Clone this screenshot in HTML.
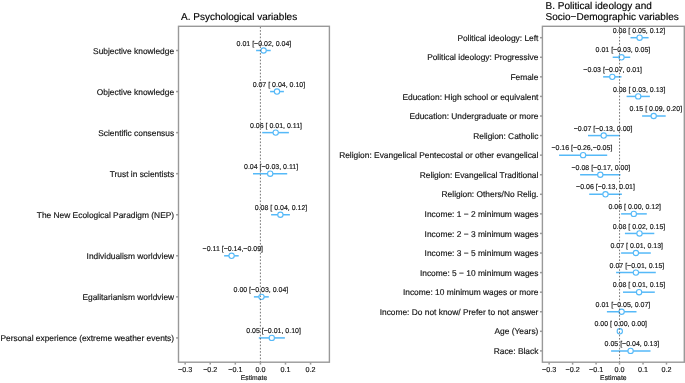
<!DOCTYPE html>
<html><head><meta charset="utf-8"><title>Forest plot</title><style>
html,body{margin:0;padding:0;background:#fff;}
body{width:685px;height:383px;overflow:hidden;}
svg{display:block;}
text{font-family:"Liberation Sans",Arial,Helvetica,sans-serif;text-rendering:geometricPrecision;}
.title{font-size:10.0px;fill:#000;stroke:#000;stroke-width:0.15;}
.ylab{font-size:8.4px;fill:#111;text-anchor:end;stroke:#111;stroke-width:0.15;}
.ann{font-size:7.0px;fill:#111;text-anchor:middle;stroke:#111;stroke-width:0.15;}
.tick{font-size:7.2px;fill:#111;text-anchor:middle;stroke:#111;stroke-width:0.15;}
.xt{font-size:6.8px;fill:#111;text-anchor:middle;stroke:#111;stroke-width:0.15;}
.ax{stroke:#999;stroke-width:1.4;}
.tk{stroke:#999;stroke-width:1.5;}
</style></head>
<body><svg width="685" height="383" viewBox="0 0 685 383">
<text x="181.0" y="19.6" class="title">A. Psychological variables</text>
<text x="545.6" y="8.9" class="title">B. Political ideology and</text>
<text x="545.6" y="19.75" class="title">Socio−Demographic variables</text>
<line x1="256.10" y1="50.50" x2="270.70" y2="50.50" stroke="#55B9F8" stroke-width="1.50"/>
<circle cx="263.60" cy="50.50" r="2.65" fill="#fff" stroke="#55B9F8" stroke-width="1.10"/>
<text x="263.95" y="45.60" class="ann">0.01 [−0.02, 0.04]</text>
<text x="174.10" y="53.60" class="ylab">Subjective knowledge</text>
<line x1="176.10" y1="50.50" x2="178.50" y2="50.50" class="tk"/>
<line x1="270.10" y1="91.56" x2="283.90" y2="91.56" stroke="#55B9F8" stroke-width="1.50"/>
<circle cx="277.00" cy="91.56" r="2.65" fill="#fff" stroke="#55B9F8" stroke-width="1.10"/>
<text x="278.90" y="86.66" class="ann">0.07 [ 0.04, 0.10]</text>
<text x="174.10" y="94.66" class="ylab">Objective knowledge</text>
<line x1="176.10" y1="91.56" x2="178.50" y2="91.56" class="tk"/>
<line x1="262.20" y1="132.62" x2="288.90" y2="132.62" stroke="#55B9F8" stroke-width="1.50"/>
<circle cx="275.70" cy="132.62" r="2.65" fill="#fff" stroke="#55B9F8" stroke-width="1.10"/>
<text x="276.00" y="127.72" class="ann">0.06 [ 0.01, 0.11]</text>
<text x="174.10" y="135.72" class="ylab">Scientific consensus</text>
<line x1="176.10" y1="132.62" x2="178.50" y2="132.62" class="tk"/>
<line x1="253.00" y1="173.68" x2="287.20" y2="173.68" stroke="#55B9F8" stroke-width="1.50"/>
<circle cx="270.20" cy="173.68" r="2.65" fill="#fff" stroke="#55B9F8" stroke-width="1.10"/>
<text x="271.10" y="168.78" class="ann">0.04 [−0.03, 0.11]</text>
<text x="174.10" y="176.78" class="ylab">Trust in scientists</text>
<line x1="176.10" y1="173.68" x2="178.50" y2="173.68" class="tk"/>
<line x1="271.10" y1="214.74" x2="289.90" y2="214.74" stroke="#55B9F8" stroke-width="1.50"/>
<circle cx="280.40" cy="214.74" r="2.65" fill="#fff" stroke="#55B9F8" stroke-width="1.10"/>
<text x="281.00" y="209.84" class="ann">0.08 [ 0.04, 0.12]</text>
<text x="174.10" y="217.84" class="ylab">The New Ecological Paradigm (NEP)</text>
<line x1="176.10" y1="214.74" x2="178.50" y2="214.74" class="tk"/>
<line x1="224.10" y1="255.80" x2="238.70" y2="255.80" stroke="#55B9F8" stroke-width="1.50"/>
<circle cx="231.60" cy="255.80" r="2.65" fill="#fff" stroke="#55B9F8" stroke-width="1.10"/>
<text x="232.80" y="250.90" class="ann">−0.11 [−0.14,−0.09]</text>
<text x="174.10" y="258.90" class="ylab">Individualism worldview</text>
<line x1="176.10" y1="255.80" x2="178.50" y2="255.80" class="tk"/>
<line x1="253.90" y1="296.86" x2="268.80" y2="296.86" stroke="#55B9F8" stroke-width="1.50"/>
<circle cx="261.50" cy="296.86" r="2.65" fill="#fff" stroke="#55B9F8" stroke-width="1.10"/>
<text x="260.90" y="291.96" class="ann">0.00 [−0.03, 0.04]</text>
<text x="174.10" y="299.96" class="ylab">Egalitarianism worldview</text>
<line x1="176.10" y1="296.86" x2="178.50" y2="296.86" class="tk"/>
<line x1="258.80" y1="337.92" x2="284.90" y2="337.92" stroke="#55B9F8" stroke-width="1.50"/>
<circle cx="271.80" cy="337.92" r="2.65" fill="#fff" stroke="#55B9F8" stroke-width="1.10"/>
<text x="273.60" y="333.02" class="ann">0.05 [−0.01, 0.10]</text>
<text x="174.10" y="341.02" class="ylab">Personal experience (extreme weather events)</text>
<line x1="176.10" y1="337.92" x2="178.50" y2="337.92" class="tk"/>
<line x1="260.40" y1="26.30" x2="260.40" y2="362.20" stroke="#555" stroke-width="0.8" stroke-dasharray="1.638 1.638" stroke-dashoffset="2.795"/>
<rect x="178.50" y="26.30" width="150.90" height="335.90" fill="none" class="ax"/>
<line x1="185.16" y1="362.20" x2="185.16" y2="364.60" class="tk"/>
<text x="185.16" y="371.70" class="tick">−0.3</text>
<line x1="210.24" y1="362.20" x2="210.24" y2="364.60" class="tk"/>
<text x="210.24" y="371.70" class="tick">−0.2</text>
<line x1="235.32" y1="362.20" x2="235.32" y2="364.60" class="tk"/>
<text x="235.32" y="371.70" class="tick">−0.1</text>
<line x1="260.40" y1="362.20" x2="260.40" y2="364.60" class="tk"/>
<text x="260.40" y="371.70" class="tick">0.0</text>
<line x1="285.48" y1="362.20" x2="285.48" y2="364.60" class="tk"/>
<text x="285.48" y="371.70" class="tick">0.1</text>
<line x1="310.56" y1="362.20" x2="310.56" y2="364.60" class="tk"/>
<text x="310.56" y="371.70" class="tick">0.2</text>
<text x="253.95" y="379.80" class="xt">Estimate</text>
<line x1="630.50" y1="37.70" x2="648.60" y2="37.70" stroke="#55B9F8" stroke-width="1.50"/>
<circle cx="639.60" cy="37.70" r="2.65" fill="#fff" stroke="#55B9F8" stroke-width="1.10"/>
<text x="639.00" y="32.80" class="ann">0.08 [ 0.05, 0.12]</text>
<text x="538.40" y="40.80" class="ylab">Political ideology: Left</text>
<line x1="540.00" y1="37.70" x2="542.40" y2="37.70" class="tk"/>
<line x1="612.70" y1="57.28" x2="630.20" y2="57.28" stroke="#55B9F8" stroke-width="1.50"/>
<circle cx="621.50" cy="57.28" r="2.65" fill="#fff" stroke="#55B9F8" stroke-width="1.10"/>
<text x="622.95" y="52.38" class="ann">0.01 [−0.03, 0.05]</text>
<text x="538.40" y="60.38" class="ylab">Political ideology: Progressive</text>
<line x1="540.00" y1="57.28" x2="542.40" y2="57.28" class="tk"/>
<line x1="603.10" y1="76.85" x2="621.50" y2="76.85" stroke="#55B9F8" stroke-width="1.50"/>
<circle cx="612.30" cy="76.85" r="2.65" fill="#fff" stroke="#55B9F8" stroke-width="1.10"/>
<text x="612.70" y="71.95" class="ann">−0.03 [−0.07, 0.01]</text>
<text x="538.40" y="79.95" class="ylab">Female</text>
<line x1="540.00" y1="76.85" x2="542.40" y2="76.85" class="tk"/>
<line x1="626.60" y1="96.42" x2="649.90" y2="96.42" stroke="#55B9F8" stroke-width="1.50"/>
<circle cx="638.20" cy="96.42" r="2.65" fill="#fff" stroke="#55B9F8" stroke-width="1.10"/>
<text x="639.15" y="91.52" class="ann">0.08 [ 0.03, 0.13]</text>
<text x="538.40" y="99.52" class="ylab">Education: High school or equivalent</text>
<line x1="540.00" y1="96.42" x2="542.40" y2="96.42" class="tk"/>
<line x1="642.10" y1="116.00" x2="665.70" y2="116.00" stroke="#55B9F8" stroke-width="1.50"/>
<circle cx="653.70" cy="116.00" r="2.65" fill="#fff" stroke="#55B9F8" stroke-width="1.10"/>
<text x="655.85" y="111.10" class="ann">0.15 [ 0.09, 0.20]</text>
<text x="538.40" y="119.10" class="ylab">Education: Undergraduate or more</text>
<line x1="540.00" y1="116.00" x2="542.40" y2="116.00" class="tk"/>
<line x1="588.00" y1="135.57" x2="619.80" y2="135.57" stroke="#55B9F8" stroke-width="1.50"/>
<circle cx="603.70" cy="135.57" r="2.65" fill="#fff" stroke="#55B9F8" stroke-width="1.10"/>
<text x="603.05" y="130.67" class="ann">−0.07 [−0.13, 0.00]</text>
<text x="538.40" y="138.67" class="ylab">Religion: Catholic</text>
<line x1="540.00" y1="135.57" x2="542.40" y2="135.57" class="tk"/>
<line x1="559.10" y1="155.15" x2="607.20" y2="155.15" stroke="#55B9F8" stroke-width="1.50"/>
<circle cx="583.10" cy="155.15" r="2.65" fill="#fff" stroke="#55B9F8" stroke-width="1.10"/>
<text x="581.90" y="150.25" class="ann">−0.16 [−0.26,−0.05]</text>
<text x="538.40" y="158.25" class="ylab">Religion: Evangelical Pentecostal or other evangelical</text>
<line x1="540.00" y1="155.15" x2="542.40" y2="155.15" class="tk"/>
<line x1="580.10" y1="174.73" x2="620.50" y2="174.73" stroke="#55B9F8" stroke-width="1.50"/>
<circle cx="600.30" cy="174.73" r="2.65" fill="#fff" stroke="#55B9F8" stroke-width="1.10"/>
<text x="600.90" y="169.83" class="ann">−0.08 [−0.17, 0.00]</text>
<text x="538.40" y="177.83" class="ylab">Religion: Evangelical Traditional</text>
<line x1="540.00" y1="174.73" x2="542.40" y2="174.73" class="tk"/>
<line x1="589.20" y1="194.30" x2="621.90" y2="194.30" stroke="#55B9F8" stroke-width="1.50"/>
<circle cx="605.50" cy="194.30" r="2.65" fill="#fff" stroke="#55B9F8" stroke-width="1.10"/>
<text x="605.50" y="189.40" class="ann">−0.06 [−0.13, 0.01]</text>
<text x="538.40" y="197.40" class="ylab">Religion: Others/No Relig.</text>
<line x1="540.00" y1="194.30" x2="542.40" y2="194.30" class="tk"/>
<line x1="621.10" y1="213.88" x2="646.80" y2="213.88" stroke="#55B9F8" stroke-width="1.50"/>
<circle cx="633.80" cy="213.88" r="2.65" fill="#fff" stroke="#55B9F8" stroke-width="1.10"/>
<text x="634.75" y="208.97" class="ann">0.06 [ 0.00, 0.12]</text>
<text x="538.40" y="216.97" class="ylab">Income: 1 − 2 minimum wages</text>
<line x1="540.00" y1="213.88" x2="542.40" y2="213.88" class="tk"/>
<line x1="624.90" y1="233.45" x2="654.30" y2="233.45" stroke="#55B9F8" stroke-width="1.50"/>
<circle cx="639.50" cy="233.45" r="2.65" fill="#fff" stroke="#55B9F8" stroke-width="1.10"/>
<text x="639.00" y="228.55" class="ann">0.08 [ 0.02, 0.15]</text>
<text x="538.40" y="236.55" class="ylab">Income: 2 − 3 minimum wages</text>
<line x1="540.00" y1="233.45" x2="542.40" y2="233.45" class="tk"/>
<line x1="621.10" y1="253.02" x2="650.80" y2="253.02" stroke="#55B9F8" stroke-width="1.50"/>
<circle cx="635.90" cy="253.02" r="2.65" fill="#fff" stroke="#55B9F8" stroke-width="1.10"/>
<text x="636.75" y="248.12" class="ann">0.07 [ 0.01, 0.13]</text>
<text x="538.40" y="256.12" class="ylab">Income: 3 − 5 minimum wages</text>
<line x1="540.00" y1="253.02" x2="542.40" y2="253.02" class="tk"/>
<line x1="616.10" y1="272.60" x2="655.80" y2="272.60" stroke="#55B9F8" stroke-width="1.50"/>
<circle cx="635.90" cy="272.60" r="2.65" fill="#fff" stroke="#55B9F8" stroke-width="1.10"/>
<text x="636.95" y="267.70" class="ann">0.07 [−0.01, 0.15]</text>
<text x="538.40" y="275.70" class="ylab">Income: 5 − 10 minimum wages</text>
<line x1="540.00" y1="272.60" x2="542.40" y2="272.60" class="tk"/>
<line x1="623.00" y1="292.18" x2="654.80" y2="292.18" stroke="#55B9F8" stroke-width="1.50"/>
<circle cx="639.10" cy="292.18" r="2.65" fill="#fff" stroke="#55B9F8" stroke-width="1.10"/>
<text x="639.00" y="287.28" class="ann">0.08 [ 0.01, 0.15]</text>
<text x="538.40" y="295.28" class="ylab">Income: 10 minimum wages or more</text>
<line x1="540.00" y1="292.18" x2="542.40" y2="292.18" class="tk"/>
<line x1="606.90" y1="311.75" x2="636.50" y2="311.75" stroke="#55B9F8" stroke-width="1.50"/>
<circle cx="621.60" cy="311.75" r="2.65" fill="#fff" stroke="#55B9F8" stroke-width="1.10"/>
<text x="622.95" y="306.85" class="ann">0.01 [−0.05, 0.07]</text>
<text x="538.40" y="314.85" class="ylab">Income: Do not know/ Prefer to not answer</text>
<line x1="540.00" y1="311.75" x2="542.40" y2="311.75" class="tk"/>
<circle cx="619.80" cy="331.32" r="2.65" fill="#fff" stroke="#55B9F8" stroke-width="1.10"/>
<text x="620.75" y="326.43" class="ann">0.00 [ 0.00, 0.00]</text>
<text x="538.40" y="334.43" class="ylab">Age (Years)</text>
<line x1="540.00" y1="331.32" x2="542.40" y2="331.32" class="tk"/>
<line x1="611.10" y1="350.90" x2="650.50" y2="350.90" stroke="#55B9F8" stroke-width="1.50"/>
<circle cx="630.60" cy="350.90" r="2.65" fill="#fff" stroke="#55B9F8" stroke-width="1.10"/>
<text x="631.95" y="346.00" class="ann">0.05 [−0.04, 0.13]</text>
<text x="538.40" y="354.00" class="ylab">Race: Black</text>
<line x1="540.00" y1="350.90" x2="542.40" y2="350.90" class="tk"/>
<line x1="619.55" y1="26.30" x2="619.55" y2="362.20" stroke="#555" stroke-width="0.8" stroke-dasharray="1.638 1.638" stroke-dashoffset="2.795"/>
<rect x="542.40" y="26.30" width="141.90" height="335.90" fill="none" class="ax"/>
<line x1="549.14" y1="362.20" x2="549.14" y2="364.60" class="tk"/>
<text x="549.14" y="371.70" class="tick">−0.3</text>
<line x1="572.61" y1="362.20" x2="572.61" y2="364.60" class="tk"/>
<text x="572.61" y="371.70" class="tick">−0.2</text>
<line x1="596.08" y1="362.20" x2="596.08" y2="364.60" class="tk"/>
<text x="596.08" y="371.70" class="tick">−0.1</text>
<line x1="619.55" y1="362.20" x2="619.55" y2="364.60" class="tk"/>
<text x="619.55" y="371.70" class="tick">0.0</text>
<line x1="643.02" y1="362.20" x2="643.02" y2="364.60" class="tk"/>
<text x="643.02" y="371.70" class="tick">0.1</text>
<line x1="666.49" y1="362.20" x2="666.49" y2="364.60" class="tk"/>
<text x="666.49" y="371.70" class="tick">0.2</text>
<text x="613.35" y="379.80" class="xt">Estimate</text>
</svg></body></html>
